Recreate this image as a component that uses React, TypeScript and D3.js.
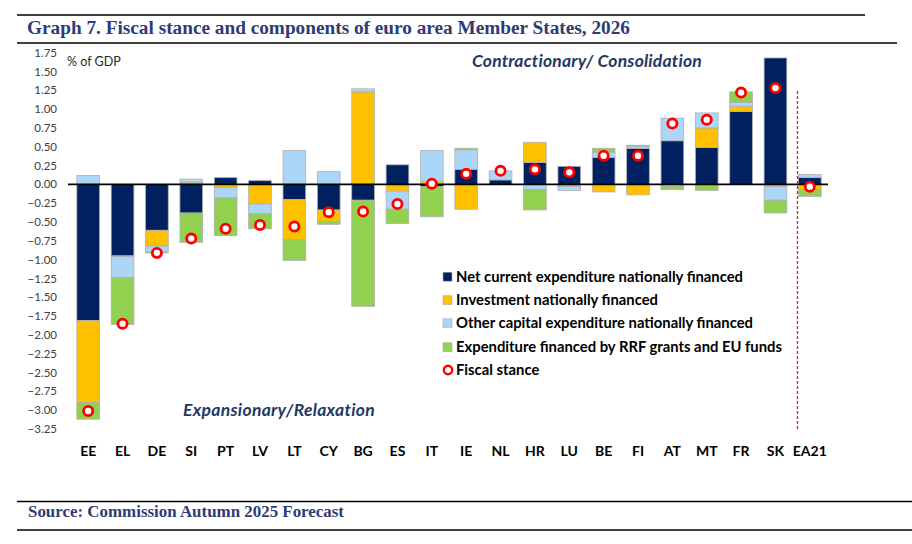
import { useEffect, useRef } from "react";
import * as d3 from "d3";

const categories = ["EE", "EL", "DE", "SI", "PT", "LV", "LT", "CY", "BG", "ES", "IT", "IE", "NL", "HR", "LU", "BE", "FI", "AT", "MT", "FR", "SK", "EA21"];

const netCurrent = [-1.81, -0.95, -0.61, -0.38, 0.09, 0.05, -0.2, -0.34, -0.21, 0.26, -0.03, 0.2, 0.06, 0.29, 0.24, 0.36, 0.48, 0.58, 0.49, 0.97, 1.68, 0.09];
const investment = [-1.09, -0.01, -0.21, 0.03, -0.04, -0.26, -0.53, -0.15, 1.23, -0.09, 0.04, -0.33, 0.0, 0.27, -0.03, -0.1, -0.14, -0.03, 0.26, 0.07, -0.03, -0.07];
const otherCapital = [0.12, -0.28, -0.08, 0.04, -0.14, -0.13, 0.45, 0.17, 0.04, -0.24, 0.41, 0.26, 0.12, -0.07, -0.05, 0.07, 0.03, 0.3, 0.2, 0.05, -0.18, 0.04];
const rrfFunds = [-0.22, -0.62, -0.01, -0.39, -0.5, -0.2, -0.28, -0.04, -1.41, -0.19, -0.4, 0.02, 0.0, -0.27, 0.0, 0.05, 0.01, -0.04, -0.08, 0.14, -0.17, -0.09];
const fiscalStance = [-3.01, -1.85, -0.91, -0.72, -0.59, -0.54, -0.56, -0.37, -0.36, -0.26, 0.01, 0.14, 0.18, 0.2, 0.16, 0.38, 0.38, 0.81, 0.86, 1.22, 1.28, -0.03];

const seriesNames = [
  "Net current expenditure nationally financed",
  "Investment nationally financed",
  "Other capital expenditure nationally financed",
  "Expenditure financed by RRF grants and EU funds",
];
const seriesColors = ["#002060", "#FFC000", "#ABD6F8", "#92D050"];
const yTicks = d3.range(-3.25, 1.76, 0.25);

const W = 912;
const H = 544;

export default function App() {
  const svgRef = useRef<SVGSVGElement>(null);

  useEffect(() => {
    if (!svgRef.current) return;
    const svg = d3.select(svgRef.current);
    svg.selectAll("*").remove();

    const x = d3
      .scaleBand()
      .domain(categories)
      .range([71, 827])
      .paddingInner(0.34)
      .paddingOuter(0.17);

    const y = d3.scaleLinear().domain([-3.25, 1.75]).range([429, 52.7]);

    const serif = "'Liberation Serif', 'Times New Roman', serif";
    const sans = "Lato, 'Noto Sans', sans-serif";
    const titleColor = "#2E3B78";

    // header / footer rules
    const rules = [
      [17, 865, 15],
      [17, 897, 43],
      [17, 912, 501.5],
      [17, 912, 530],
    ];
    svg
      .append("g")
      .selectAll("line")
      .data(rules)
      .enter()
      .append("line")
      .attr("x1", (d) => d[0])
      .attr("x2", (d) => d[1])
      .attr("y1", (d) => d[2])
      .attr("y2", (d) => d[2])
      .attr("stroke", "#000")
      .attr("stroke-width", 1.5);

    svg
      .append("text")
      .attr("x", 27)
      .attr("y", 33.5)
      .attr("font-family", serif)
      .attr("font-weight", 700)
      .attr("font-size", 18)
      .attr("fill", titleColor)
      .attr("textLength", 603)
      .attr("lengthAdjust", "spacingAndGlyphs")
      .text("Graph 7. Fiscal stance and components of euro area Member States, 2026");

    svg
      .append("text")
      .attr("x", 28)
      .attr("y", 517)
      .attr("font-family", serif)
      .attr("font-weight", 700)
      .attr("font-size", 16)
      .attr("fill", titleColor)
      .attr("textLength", 316)
      .attr("lengthAdjust", "spacingAndGlyphs")
      .text("Source: Commission Autumn 2025 Forecast");

    // Y 轴标签
    svg
      .append("g")
      .selectAll("text")
      .data(yTicks)
      .enter()
      .append("text")
      .attr("x", 57)
      .attr("y", (d) => y(d))
      .attr("dy", "0.35em")
      .attr("text-anchor", "end")
      .attr("font-family", sans)
      .attr("font-size", 11.5)
      .attr("fill", "#404040")
      .text((d) => d3.format(".2f")(d));

    svg
      .append("text")
      .attr("x", 67)
      .attr("y", 66)
      .attr("font-family", sans)
      .attr("font-size", 12.5)
      .attr("fill", "#262626")
      .text("% of GDP");

    // stacked bars
    const rows = categories.map((c, i) => ({
      cat: c,
      s0: netCurrent[i],
      s1: investment[i],
      s2: otherCapital[i],
      s3: rrfFunds[i],
    }));
    const stack = d3
      .stack<(typeof rows)[0]>()
      .keys(["s0", "s1", "s2", "s3"])
      .offset(d3.stackOffsetDiverging);
    const stacked = stack(rows);

    const barG = svg.append("g");
    stacked.forEach((layer, k) => {
      barG
        .append("g")
        .selectAll("rect")
        .data(layer.filter((d) => d[1] !== d[0]))
        .enter()
        .append("rect")
        .attr("x", (d) => x(d.data.cat) || 0)
        .attr("width", x.bandwidth())
        .attr("y", (d) => y(Math.max(d[0], d[1])))
        .attr("height", (d) => Math.abs(y(d[0]) - y(d[1])))
        .attr("fill", seriesColors[k])
        .attr("stroke", "#B0B0B0")
        .attr("stroke-width", 0.8);
    });

    // zero line
    svg
      .append("line")
      .attr("x1", 68)
      .attr("x2", 828)
      .attr("y1", y(0))
      .attr("y2", y(0))
      .attr("stroke", "#000")
      .attr("stroke-width", 1.6);

    // EA21 separator
    const sepX = (x("EA21") || 0) - 1;
    svg
      .append("line")
      .attr("x1", sepX)
      .attr("x2", sepX)
      .attr("y1", y(1.24))
      .attr("y2", 430)
      .attr("stroke", "#D02020")
      .attr("stroke-width", 1.3)
      .attr("stroke-dasharray", "3,2");

    // fiscal stance markers
    svg
      .append("g")
      .selectAll("circle")
      .data(fiscalStance)
      .enter()
      .append("circle")
      .attr("cx", (_d, i) => (x(categories[i]) || 0) + x.bandwidth() / 2)
      .attr("cy", (d) => y(d))
      .attr("r", 4.6)
      .attr("fill", "#fff")
      .attr("stroke", "#FF0000")
      .attr("stroke-width", 2.8);

    // category labels
    svg
      .append("g")
      .selectAll("text")
      .data(categories)
      .enter()
      .append("text")
      .attr("x", (d) => (x(d) || 0) + x.bandwidth() / 2)
      .attr("y", 455.5)
      .attr("text-anchor", "middle")
      .attr("font-family", sans)
      .attr("font-weight", 700)
      .attr("font-size", 14)
      .attr("fill", "#000")
      .text((d) => d);

    // annotations
    svg
      .append("text")
      .attr("x", 587)
      .attr("y", 66.5)
      .attr("text-anchor", "middle")
      .attr("font-family", sans)
      .attr("font-weight", 700)
      .attr("font-style", "italic")
      .attr("font-size", 17.5)
      .attr("letter-spacing", 0.2)
      .attr("fill", "#1F3864")
      .text("Contractionary/ Consolidation");

    svg
      .append("text")
      .attr("x", 183)
      .attr("y", 415.5)
      .attr("font-family", sans)
      .attr("font-weight", 700)
      .attr("font-style", "italic")
      .attr("font-size", 17.5)
      .attr("letter-spacing", 0.3)
      .attr("fill", "#1F3864")
      .text("Expansionary/Relaxation");

    // legend
    const legendY = [276.7, 300.2, 323.3, 347.2, 370];
    const legend = svg.append("g").attr("font-family", sans);
    seriesNames.forEach((name, k) => {
      legend
        .append("rect")
        .attr("x", 443)
        .attr("y", legendY[k] - 4.5)
        .attr("width", 9)
        .attr("height", 9)
        .attr("fill", seriesColors[k])
        .attr("stroke", "#B0B0B0")
        .attr("stroke-width", 0.6);
      legend
        .append("text")
        .attr("x", 456)
        .attr("y", legendY[k])
        .attr("dy", "0.35em")
        .attr("font-weight", 700)
        .attr("font-size", 14.8)
        .attr("fill", "#000")
        .text(name);
    });
    legend
      .append("circle")
      .attr("cx", 448)
      .attr("cy", legendY[4])
      .attr("r", 4.2)
      .attr("fill", "#fff")
      .attr("stroke", "#FF0000")
      .attr("stroke-width", 2.4);
    legend
      .append("text")
      .attr("x", 456)
      .attr("y", legendY[4])
      .attr("dy", "0.35em")
      .attr("font-weight", 700)
      .attr("font-size", 14.8)
      .attr("fill", "#000")
      .text("Fiscal stance");
  }, []);

  return (
    <svg
      ref={svgRef}
      width={W}
      height={H}
      viewBox={`0 0 ${W} ${H}`}
      style={{ position: "absolute", left: 0, top: 0, background: "#fff" }}
    />
  );
}
